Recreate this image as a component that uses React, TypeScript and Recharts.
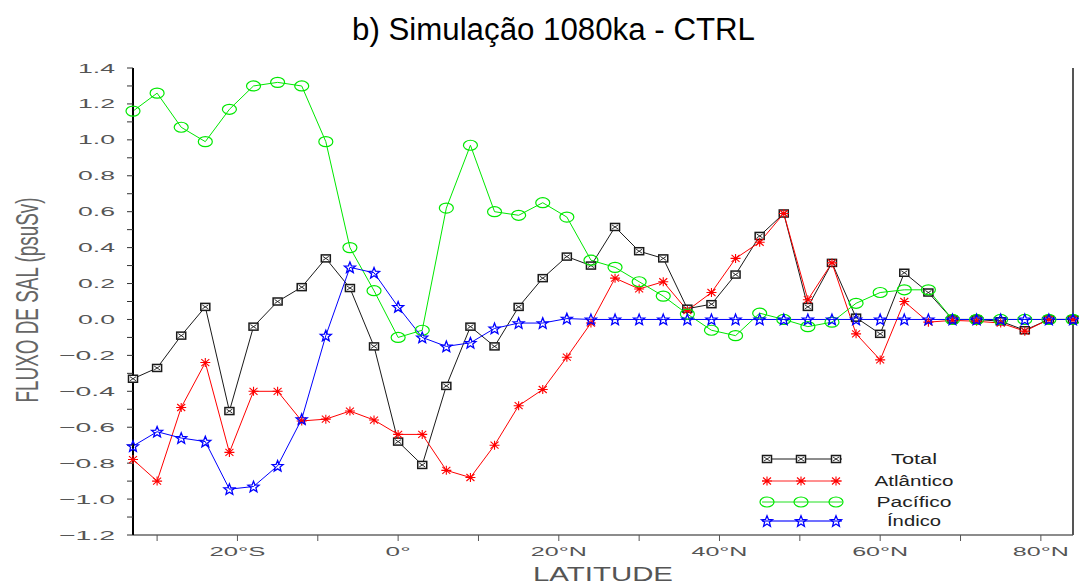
import React from 'react';
import { LineChart, Line, XAxis, YAxis, Legend } from 'recharts';

const latitudes = [
  -33, -30, -27, -24, -21, -18, -15, -12, -9, -6, -3, 0, 3, 6, 9, 12, 15, 18, 21, 24,
  27, 30, 33, 36, 39, 42, 45, 48, 51, 54, 57, 60, 63, 66, 69, 72, 75, 78, 81, 84,
];

const total = [
  -0.33, -0.27, -0.09, 0.07, -0.51, -0.04, 0.10, 0.18, 0.34, 0.175, -0.15, -0.68, -0.81, -0.37, -0.04, -0.15, 0.07, 0.23, 0.35, 0.30,
  0.515, 0.38, 0.34, 0.06, 0.085, 0.25, 0.465, 0.59, 0.07, 0.315, 0.01, -0.08, 0.26, 0.15, 0.0, 0.0, -0.01, -0.06, 0.0, 0.0,
];

const atlantico = [
  -0.78, -0.90, -0.49, -0.24, -0.74, -0.40, -0.40, -0.565, -0.555, -0.51, -0.56, -0.64, -0.64, -0.84, -0.88, -0.70, -0.48, -0.39, -0.21, -0.02,
  0.23, 0.17, 0.21, 0.05, 0.15, 0.34, 0.43, 0.59, 0.11, 0.315, -0.08, -0.225, 0.10, -0.015, -0.005, -0.01, -0.02, -0.065, 0.0, 0.0,
];

const pacifico = [
  1.16, 1.26, 1.07, 0.99, 1.17, 1.30, 1.32, 1.30, 0.99, 0.40, 0.16, -0.10, -0.06, 0.62, 0.97, 0.60, 0.58, 0.65, 0.57, 0.33,
  0.29, 0.21, 0.13, 0.03, -0.06, -0.09, 0.035, 0.0, -0.04, -0.015, 0.09, 0.15, 0.165, 0.165, 0.0, 0.0, 0.0, 0.0, 0.0, 0.0,
];

const indico = [
  -0.705, -0.625, -0.66, -0.68, -0.945, -0.93, -0.815, -0.555, -0.09, 0.29, 0.26, 0.07, -0.10, -0.15, -0.13, -0.05, -0.02, -0.02, 0.005, 0.0,
  0.0, 0.0, 0.0, 0.0, 0.0, 0.0, 0.0, 0.0, 0.0, 0.0, 0.0, 0.0, 0.0, 0.0, 0.0, 0.0, 0.0, 0.0, 0.0, 0.0,
];

const seriesKeys = ['total', 'atlantico', 'pacifico', 'indico'];
const seriesNames = ['Total', 'Atlântico', 'Pacífico', 'Índico'];
const seriesColors = ['#1a1a1a', '#ff0000', '#00e800', '#0000ff'];
const legendLineColors = ['#1a1a1a', '#ff2020', '#20e020', '#7070ff'];

const xTicks = [-30, -20, -10, 0, 10, 20, 30, 40, 50, 60, 70, 80];
const xTickLabels = ['', '20°S', '', '0°', '', '20°N', '', '40°N', '', '60°N', '', '80°N'];

const yTicks = [
  -1.2, -1.1, -1.0, -0.9, -0.8, -0.7, -0.6, -0.5, -0.4, -0.3, -0.2, -0.1, 0.0,
  0.1, 0.2, 0.3, 0.4, 0.5, 0.6, 0.7, 0.8, 0.9, 1.0, 1.1, 1.2, 1.3, 1.4,
];
const yTickLabels = [
  '−1.2', '', '−1.0', '', '−0.8', '', '−0.6', '', '−0.4', '', '−0.2', '', '0.0',
  '', '0.2', '', '0.4', '', '0.6', '', '0.8', '', '1.0', '', '1.2', '', '1.4',
];

const data = latitudes.map((lat, i) => ({
  lat,
  total: total[i],
  atlantico: atlantico[i],
  pacifico: pacifico[i],
  indico: indico[i],
}));

const FONT = '"Liberation Sans", Arial, Helvetica, sans-serif';

function starPoints(cx: number, cy: number, ro: number, ri: number): string {
  const pts: string[] = [];
  for (let k = 0; k < 10; k++) {
    const r = k % 2 === 0 ? ro : ri;
    const a = -Math.PI / 2 + (k * Math.PI) / 5;
    pts.push(`${cx + r * Math.cos(a)},${cy + r * Math.sin(a)}`);
  }
  return pts.join(' ');
}

function Marker({ kind, cx, cy, color }: { kind: number; cx: number; cy: number; color: string }) {
  if (cx == null || cy == null) return <g />;
  if (kind === 0) {
    return (
      <g>
        <rect x={cx - 4.5} y={cy - 3.5} width={9} height={7} fill="#fff" stroke={color} strokeWidth={1.5} />
        <path d={`M${cx - 3},${cy - 2}L${cx + 3},${cy + 2}M${cx - 3},${cy + 2}L${cx + 3},${cy - 2}`} stroke={color} strokeWidth={0.9} />
      </g>
    );
  }
  if (kind === 1) {
    return (
      <path
        d={`M${cx - 5},${cy}L${cx + 5},${cy}M${cx},${cy - 4.5}L${cx},${cy + 4.5}M${cx - 4},${cy - 3.5}L${cx + 4},${cy + 3.5}M${cx - 4},${cy + 3.5}L${cx + 4},${cy - 3.5}`}
        stroke={color}
        strokeWidth={1.1}
      />
    );
  }
  if (kind === 2) {
    return <ellipse cx={cx} cy={cy} rx={7} ry={5} fill="none" stroke={color} strokeWidth={1.2} />;
  }
  return <polygon points={starPoints(cx, cy + 0.5, 5.8, 2.5)} fill="none" stroke={color} strokeWidth={1.3} />;
}

const XTick = (props: any) => {
  const { x, y, payload } = props;
  const i = xTicks.indexOf(payload.value);
  const label = i >= 0 ? xTickLabels[i] : '';
  if (!label) return <g />;
  return (
    <text
      x={x}
      y={y + 13}
      textAnchor="middle"
      fontSize={13}
      fontFamily={FONT}
      fill="#555"
      textLength={label.length > 2 ? 56 : 25}
      lengthAdjust="spacingAndGlyphs"
    >
      {label}
    </text>
  );
};

const YTick = (props: any) => {
  const { x, y, payload } = props;
  const i = yTicks.findIndex((t) => Math.abs(t - payload.value) < 1e-6);
  const label = i >= 0 ? yTickLabels[i] : '';
  if (!label) return <g />;
  return (
    <text
      x={x - 10}
      y={y + 4.5}
      textAnchor="end"
      fontSize={13}
      fontFamily={FONT}
      fill="#555"
      textLength={label.startsWith('−') ? 56 : 37}
      lengthAdjust="spacingAndGlyphs"
    >
      {label}
    </text>
  );
};

const legendRowsY = [11, 33, 54, 73];
const legendTextLen = [46, 79, 75, 54];

const renderLegend = () => (
  <svg width={230} height={85} style={{ display: 'block' }}>
    {seriesNames.map((name, i) => (
      <g key={name}>
        <line x1={7} x2={87} y1={legendRowsY[i]} y2={legendRowsY[i]} stroke={legendLineColors[i]} strokeWidth={i === 3 ? 2 : 1} />
        {[12, 46, 81].map((mx) => (
          <Marker key={mx} kind={i} cx={mx} cy={legendRowsY[i]} color={seriesColors[i]} />
        ))}
        <text
          x={159}
          y={legendRowsY[i] + 5}
          textAnchor="middle"
          fontSize={14}
          fontFamily={FONT}
          fill="#222"
          textLength={legendTextLen[i]}
          lengthAdjust="spacingAndGlyphs"
        >
          {name}
        </text>
      </g>
    ))}
  </svg>
);

export default function App() {
  return (
    <div style={{ position: 'absolute', left: 0, top: 0, width: 1079, height: 585, background: '#fff' }}>
      <LineChart width={1079} height={585} data={data} margin={{ top: 68, right: 0, bottom: 0, left: 0 }}>
        <XAxis
          xAxisId="bottom"
          dataKey="lat"
          type="number"
          domain={[-33, 84]}
          ticks={xTicks}
          height={50}
          tickSize={6}
          tick={XTick}
          axisLine={{ stroke: '#666', strokeWidth: 1.5 }}
          tickLine={{ stroke: '#555' }}
          interval={0}
        />
        <XAxis
          xAxisId="top"
          orientation="top"
          dataKey="lat"
          type="number"
          domain={[-33, 84]}
          ticks={xTicks}
          height={0}
          tickSize={6}
          tick={false}
          axisLine={{ stroke: '#444', strokeWidth: 1.5 }}
          tickLine={{ stroke: '#444' }}
          interval={0}
        />
        <YAxis
          yAxisId="left"
          type="number"
          domain={[-1.2, 1.4]}
          ticks={yTicks}
          width={133}
          tickSize={6}
          tick={YTick}
          axisLine={{ stroke: '#000', strokeWidth: 2 }}
          tickLine={{ stroke: '#333' }}
          interval={0}
        />
        <YAxis
          yAxisId="right"
          orientation="right"
          type="number"
          domain={[-1.2, 1.4]}
          ticks={yTicks}
          width={6}
          tickSize={6}
          tick={false}
          axisLine={{ stroke: '#555', strokeWidth: 2 }}
          tickLine={{ stroke: '#555' }}
          interval={0}
        />
        <Legend
          layout="horizontal"
          verticalAlign="middle"
          align="center"
          content={renderLegend}
          wrapperStyle={{ left: 755, top: 448, width: 230, height: 85 }}
        />
        {seriesKeys.map((key, i) => (
          <Line
            key={key}
            xAxisId="bottom"
            yAxisId="left"
            dataKey={key}
            name={seriesNames[i]}
            stroke={seriesColors[i]}
            strokeWidth={1}
            isAnimationActive={false}
            dot={(p: any) => <Marker key={`${key}-${p.index}`} kind={i} cx={p.cx} cy={p.cy} color={seriesColors[i]} />}
            activeDot={false}
          />
        ))}
      </LineChart>
      <svg width={1079} height={585} style={{ position: 'absolute', left: 0, top: 0, pointerEvents: 'none' }}>
        <text x={553.5} y={40} textAnchor="middle" fontSize={31} fontFamily={FONT} fill="#000" textLength={403} lengthAdjust="spacingAndGlyphs">
          b) Simulação 1080ka - CTRL
        </text>
        <text
          transform="translate(38,300) rotate(-90)"
          textAnchor="middle"
          fontSize={32}
          fontFamily={FONT}
          fill="#666"
          textLength={205}
          lengthAdjust="spacingAndGlyphs"
        >
          FLUXO DE SAL (psuSv)
        </text>
        <text x={603} y={581} textAnchor="middle" fontSize={20} fontFamily={FONT} fill="#555" textLength={140} lengthAdjust="spacingAndGlyphs">
          LATITUDE
        </text>
      </svg>
    </div>
  );
}
